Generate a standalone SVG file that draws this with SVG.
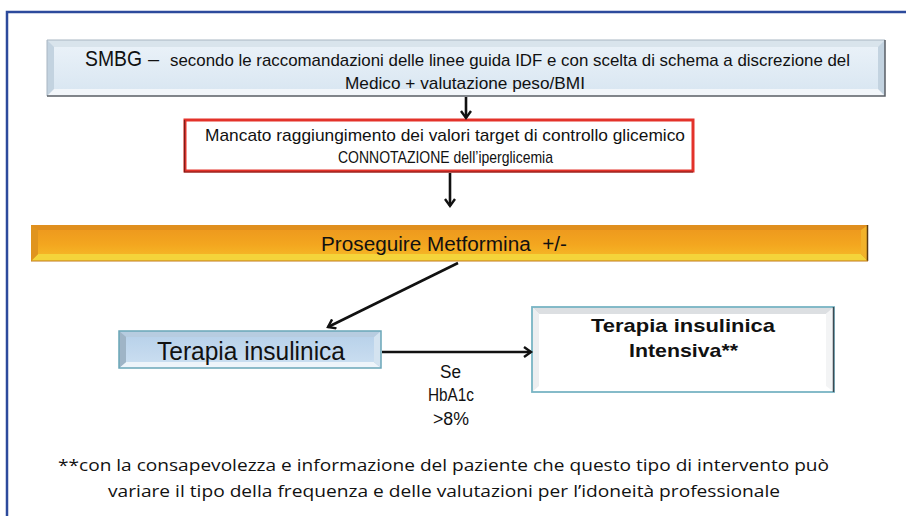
<svg xmlns="http://www.w3.org/2000/svg" width="906" height="516" viewBox="0 0 906 516">
<defs>
<style>
.t{font-family:"Liberation Sans",Arial,sans-serif;fill:#111;white-space:pre;}
.c{font-family:"Open Sans","Liberation Sans",sans-serif;fill:#111;}
.arr{stroke:#111;stroke-width:2.6;fill:none;}
</style>
<marker id="ah" markerWidth="12" markerHeight="12" refX="8" refY="6" orient="auto" markerUnits="userSpaceOnUse" viewBox="0 0 12 12">
<path d="M1,1 L8,6 L1,11" fill="none" stroke="#111" stroke-width="2.4"/>
</marker>
<linearGradient id="gBlue" x1="0" y1="0" x2="0" y2="1">
<stop offset="0" stop-color="#e9f1f8"/><stop offset="1" stop-color="#dae7f2"/>
</linearGradient>
<linearGradient id="gOr" x1="0" y1="0" x2="0" y2="1">
<stop offset="0" stop-color="#ee9a1e"/><stop offset="0.6" stop-color="#f3a61f"/><stop offset="1" stop-color="#f5b425"/>
</linearGradient>
<linearGradient id="gTer" x1="0" y1="0" x2="0" y2="1">
<stop offset="0" stop-color="#b9d2ea"/><stop offset="1" stop-color="#c9ddf0"/>
</linearGradient>
</defs>

<!-- outer frame -->
<path d="M7,516 V12 H906" fill="none" stroke="#2c4a9c" stroke-width="2.5"/>

<g id="node-smbg">
<rect x="47" y="40" width="838" height="56" fill="#c3d3e0"/>
<polygon points="47,40 885,40 878,47 54,47" fill="#d9e4ec"/>
<polygon points="47,96 885,96 878,89 54,89" fill="#f2f6fa"/>
<rect x="54" y="47" width="824" height="42" fill="url(#gBlue)"/>
<path d="M47,96 V40 H885" fill="none" stroke="#a9b6c2" stroke-width="1"/>
<path d="M885,40 V96 H47" fill="none" stroke="#5a5f66" stroke-width="1.5"/>
<text class="t" x="85" y="66" font-size="22" textLength="57" lengthAdjust="spacingAndGlyphs">SMBG</text>
<text class="t" x="148" y="66" font-size="20">–</text>
<text class="t" x="170" y="66" font-size="17" textLength="680" lengthAdjust="spacingAndGlyphs">secondo le raccomandazioni delle linee guida IDF e con scelta di schema a discrezione del</text>
<text class="t" x="345" y="89" font-size="17" textLength="240" lengthAdjust="spacingAndGlyphs">Medico + valutazione peso/BMI</text>
</g>

<g id="node-mancato">
<rect x="185" y="120" width="508" height="51" fill="#fff" stroke="#e3322a" stroke-width="3"/>
<path d="M184.5,120 V172 H693" fill="none" stroke="#7d1d1a" stroke-width="1.2"/>
<text class="t" x="205" y="141" font-size="17" textLength="480" lengthAdjust="spacingAndGlyphs">Mancato raggiungimento dei valori target di controllo glicemico</text>
<text class="t" x="338" y="163" font-size="17" textLength="215" lengthAdjust="spacingAndGlyphs">CONNOTAZIONE dell’iperglicemia</text>
</g>

<g id="node-metformina">
<rect x="31" y="225" width="837" height="36" fill="#e3901c"/>
<polygon points="31,225 868,225 861,230 38,230" fill="#e08f1e"/>
<polygon points="31,261 868,261 861,254 38,254" fill="#f4d43a"/>
<polygon points="31,225 38,230 38,254 31,261" fill="#e0941e"/>
<polygon points="868,225 861,230 861,254 868,261" fill="#f2b22a"/>
<rect x="38" y="230" width="823" height="24" fill="url(#gOr)"/>
<line x1="867.5" y1="225" x2="867.5" y2="261" stroke="#5a3a10" stroke-width="1.5"/>
<line x1="31" y1="261" x2="868" y2="261" stroke="#c27a1a" stroke-width="1"/>
<text class="t" x="321" y="251" font-size="20" textLength="246" lengthAdjust="spacingAndGlyphs" xml:space="preserve">Proseguire Metformina  +/-</text>
</g>

<g id="node-terapia">
<rect x="119" y="331" width="262" height="37" fill="#a9c3d8"/>
<polygon points="119,331 381,331 374,337 126,337" fill="#b7cce0"/>
<polygon points="119,368 381,368 374,362 126,362" fill="#eef4fa"/>
<polygon points="119,331 126,337 126,362 119,368" fill="#9fb4c6"/>
<polygon points="381,331 374,337 374,362 381,368" fill="#d4e3f0"/>
<rect x="126" y="337" width="248" height="25" fill="url(#gTer)"/>
<rect x="119" y="331" width="262" height="37" fill="none" stroke="#6aa6b8" stroke-width="1.5"/>
<text class="t" x="157" y="360" font-size="25" textLength="188" lengthAdjust="spacingAndGlyphs">Terapia insulinica</text>
</g>

<g id="node-intensiva">
<rect x="532" y="307" width="302" height="85" fill="#fff"/>
<polygon points="532,307 834,307 826,314 539,314" fill="#dcdfe2"/>
<polygon points="532,307 539,314 539,386 532,392" fill="#eceef0"/>
<polygon points="834,307 826,314 826,386 834,392" fill="#f3f4f5"/>
<rect x="532" y="307" width="302" height="85" fill="none" stroke="#78b4c4" stroke-width="1.8"/>
<line x1="833.5" y1="307" x2="833.5" y2="392" stroke="#3d4a52" stroke-width="1.5"/>
<text class="t" x="591" y="332" font-size="19" font-weight="bold" textLength="184" lengthAdjust="spacingAndGlyphs">Terapia insulinica</text>
<text class="t" x="629" y="357" font-size="19" font-weight="bold" textLength="109" lengthAdjust="spacingAndGlyphs">Intensiva**</text>
</g>

<g id="connectors">
<line class="arr" x1="466" y1="97" x2="466" y2="118" marker-end="url(#ah)"/>
<line class="arr" x1="450" y1="173" x2="450" y2="206" marker-end="url(#ah)"/>
<line class="arr" x1="458" y1="263" x2="328" y2="327" marker-end="url(#ah)"/>
<line class="arr" x1="382" y1="352" x2="531" y2="352" marker-end="url(#ah)"/>
</g>

<g id="label-hba1c">
<text class="t" x="440" y="378" font-size="18" textLength="21" lengthAdjust="spacingAndGlyphs">Se</text>
<text class="t" x="428" y="401" font-size="18" textLength="46" lengthAdjust="spacingAndGlyphs">HbA1c</text>
<text class="t" x="433" y="425" font-size="18" textLength="36" lengthAdjust="spacingAndGlyphs">&gt;8%</text>
</g>

<g id="footnote">
<text class="c" x="58" y="471" font-size="17" textLength="771" lengthAdjust="spacingAndGlyphs">**con la consapevolezza e informazione del paziente che questo tipo di intervento può</text>
<text class="c" x="108" y="497" font-size="17" textLength="672" lengthAdjust="spacingAndGlyphs">variare il tipo della frequenza e delle valutazioni per l’idoneità professionale</text>
</g>
</svg>
